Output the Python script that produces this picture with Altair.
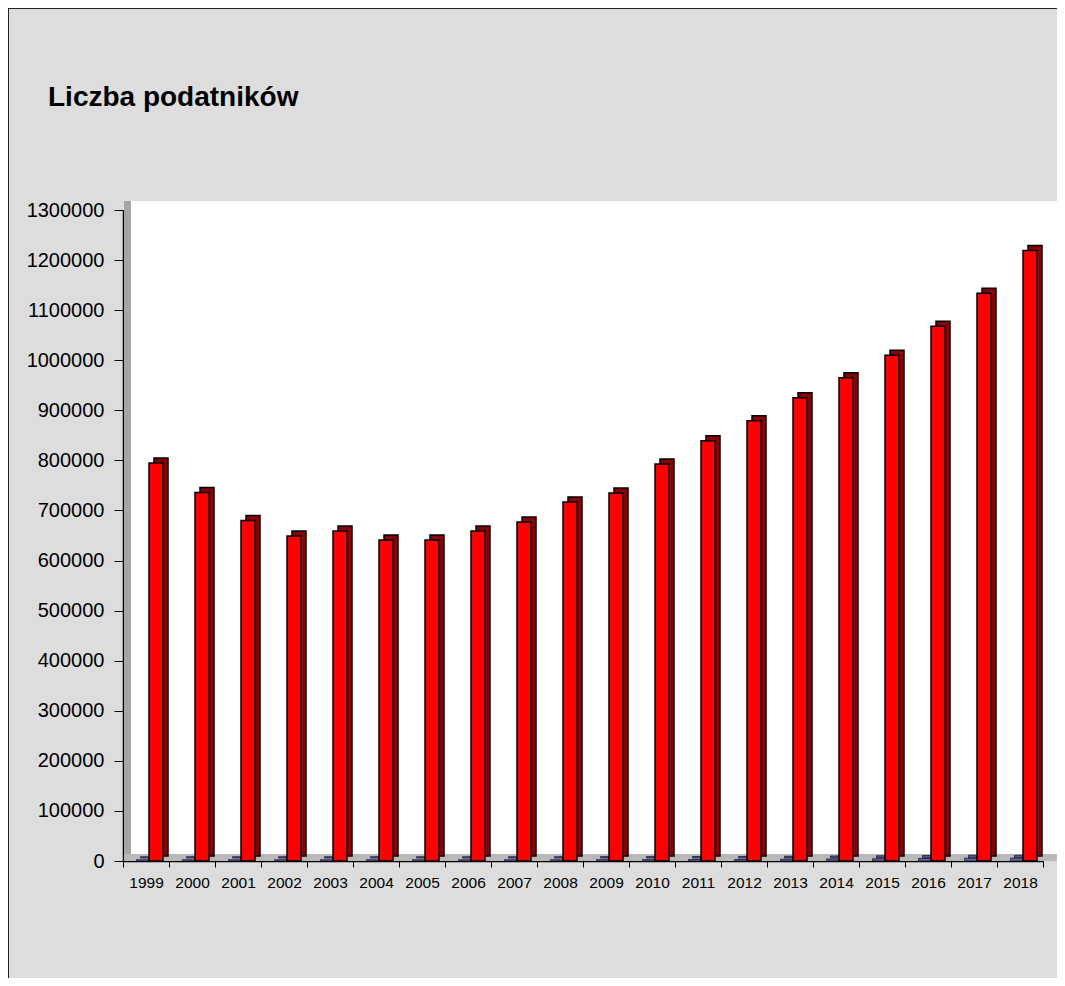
import altair as alt
import pandas as pd

years = [str(y) for y in range(1999, 2019)]
red_values = [795000, 736000, 680000, 649000, 659000, 641000, 641000, 659000, 677000, 717000,
              735000, 793000, 839000, 879000, 925000, 965000, 1010000, 1068000, 1134000, 1219000]
blue_values = [2500, 2500, 2500, 2500, 2500, 2500, 2500, 2500, 2500, 2500,
               2800, 2800, 3000, 3000, 3500, 4000, 4500, 5000, 5500, 5500]
y_ticks = [0, 100000, 200000, 300000, 400000, 500000, 600000, 700000,
           800000, 900000, 1000000, 1100000, 1200000, 1300000]
title_text = "Liczba podatników"

df = pd.DataFrame({"rok": years, "czerwone": red_values, "niebieskie": blue_values})

FONT = "Liberation Sans, Arial, sans-serif"
W, H = 920, 651

xenc = alt.X("rok:N", sort=years,
             scale=alt.Scale(paddingInner=0, paddingOuter=0),
             axis=alt.Axis(title=None, labelAngle=0, labelFontSize=15.5, labelFont=FONT,
                           labelColor="black", tickBand="extent", tickSize=6,
                           tickColor="black", domainColor="black", domainWidth=1.5,
                           labelPadding=8, grid=False))

yscale = alt.Scale(domain=[0, 1300000], nice=False)

def deco():
    return alt.Chart(alt.Data(values=[{}]))

back_wall = deco().mark_rect(fill="white").encode(
    x=alt.value(8), x2=alt.value(934), y=alt.value(-9), y2=alt.value(644))
left_wall = deco().mark_rect(fill="#a6a6a6").encode(
    x=alt.value(1), x2=alt.value(8), y=alt.value(-9), y2=alt.value(651))
floor = deco().mark_rect(fill="#b8b8b8").encode(
    x=alt.value(1), x2=alt.value(934), y=alt.value(644), y2=alt.value(651))

base = alt.Chart(df)

blue_back = base.mark_bar(width=13, xOffset=1, yOffset=-3, fill="#55558a",
                          stroke="#1a1a3a", strokeWidth=0.8).encode(
    x=xenc, y=alt.Y("niebieskie:Q", scale=yscale))
blue_front = base.mark_bar(width=13, xOffset=-3, fill="#6666a0",
                           stroke="#1a1a3a", strokeWidth=0.8).encode(
    x=xenc, y=alt.Y("niebieskie:Q", scale=yscale))

yaxis = alt.Axis(title=None, values=y_ticks, format="d", labelFontSize=20, labelFont=FONT,
                 labelColor="black", tickSize=9, tickColor="black", domainColor="black",
                 domainWidth=1.5, labelPadding=10, grid=False)

red_back = base.mark_bar(width=14, xOffset=15, yOffset=-5, fill="#8b0000",
                         stroke="black", strokeWidth=1.5).encode(
    x=xenc, y=alt.Y("czerwone:Q", scale=yscale, axis=yaxis))
red_front = base.mark_bar(width=14, xOffset=10, fill="#ff0000",
                          stroke="black", strokeWidth=1.5).encode(
    x=xenc, y=alt.Y("czerwone:Q", scale=yscale, axis=yaxis))

border_left = deco().mark_rule(color="#222222", strokeWidth=1).encode(
    x=alt.value(-114.5), y=alt.value(-202), y2=alt.value(776))
border_top = deco().mark_rule(color="#222222", strokeWidth=1).encode(
    x=alt.value(-115), x2=alt.value(942), y=alt.value(-201.5))

title = deco().mark_text(text=title_text, font=FONT, fontSize=28, fontWeight="bold",
                         align="left", baseline="alphabetic", color="black").encode(
    x=alt.value(-75), y=alt.value(-104))

chart = alt.layer(back_wall, left_wall, floor, blue_back, blue_front, red_back, red_front,
                  border_left, border_top, title).properties(
    width=W, height=H,
    padding={"left": 115, "top": 202, "right": 14, "bottom": 117},
    autosize=alt.AutoSizeParams(type="none"),
    background="#dddddd",
).configure_view(stroke=None)

chart.save("out.html", embed_options={"renderer": "svg", "actions": False})
